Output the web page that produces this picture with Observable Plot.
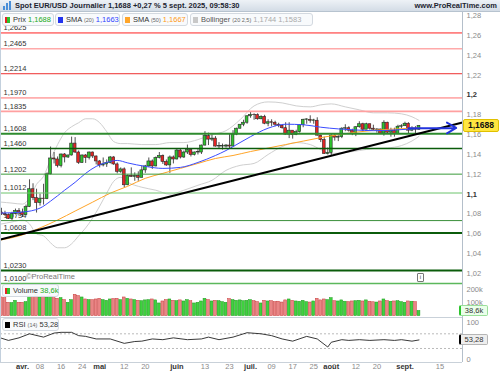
<!DOCTYPE html>
<html lang="fr">
<head>
<meta charset="utf-8">
<script src="https://cdn.jsdelivr.net/npm/d3@7"></script>
<script src="https://cdn.jsdelivr.net/npm/@observablehq/plot@0.6"></script>
<style>
html,body{margin:0;padding:0;background:#fff}
body{width:500px;height:375px;position:relative;overflow:hidden;font-family:"Liberation Sans",Arial,sans-serif;color:#222}
.abs{position:absolute}
#hdr{left:0;top:0;width:500px;height:11px;background:linear-gradient(#eef2f6,#d3dce6);border-bottom:1px solid #b7c3cf;z-index:5}
#ttl{left:15px;top:0px;font-size:7.5px;font-weight:bold;line-height:11px;white-space:nowrap;color:#1c2430}
#site{right:3px;top:0px;font-size:7.5px;font-weight:bold;line-height:11px;color:#1c2430}
.leg{height:13px;line-height:12px;border:1px solid #d3d9e0;border-radius:3px;background:rgba(248,250,252,0.96);font-size:7.5px;white-space:nowrap;z-index:4;box-sizing:border-box;padding-left:2px;color:#333}
.sq{display:inline-block;width:5px;height:6px;margin-right:3px;vertical-align:-0.5px}
.sm{font-size:5.5px;color:#666}
.tag{font-size:7.5px;line-height:10px;text-align:center;box-sizing:border-box;border-radius:2px;z-index:4}
</style>
</head>
<body>
<div id="pricePanel" class="abs" style="left:0;top:0"></div>
<div id="volPanel" class="abs" style="left:0;top:283px"></div>
<div id="rsiPanel" class="abs" style="left:0;top:317px"></div>
<div class="abs" style="left:0;top:12px;width:1px;height:350px;background:#c3d0dd"></div>
<div class="abs" style="left:462px;top:12px;width:1px;height:350px;background:#b4bfca"></div>
<div class="abs" style="left:0;top:317px;width:462px;height:1px;background:#c9d1d9"></div>
<div class="abs" style="left:0;top:362px;width:462px;height:1px;background:#c9d1d9"></div>
<div id="hdr" class="abs">
  <svg class="abs" style="left:3px;top:1px" width="9" height="9"><rect x="0" y="5" width="2" height="4" fill="#4a8fd8"/><rect x="3" y="2" width="2" height="7" fill="#4a8fd8"/><rect x="6" y="0" width="2" height="9" fill="#4a8fd8"/></svg>
  <div id="ttl" class="abs">Spot EUR/USD Journalier 1,1688 +0,27 % 5 sept. 2025, 09:58:30</div>
  <div id="site" class="abs">www.ProRealTime.com</div>
</div>
<div id="legends"></div>
<div class="abs" style="left:26px;top:272px;font-size:7.5px;color:#777;z-index:3">©ProRealTime</div>
<div class="abs" style="left:417px;top:273px;width:5px;height:7px;border:1px solid #777;border-radius:1px;font-size:6px;line-height:7px;text-align:center;color:#444;z-index:3">i</div>
<script>
// ---------------- DATA ----------------
const firstIdx = -6; // trading-day index of first candle (24 mars 2025); 0 = 1 avr.
const opens = [1.0815,1.0800,1.0790,1.0752,1.0800,1.0830,
 1.0815,1.0790,1.0870,1.1050,1.0960,1.0910,1.0955,1.0950,1.1200,1.1360,
 1.1350,1.1285,1.1400,1.1370,1.1390,1.1510,1.1420,1.1315,1.1390,1.1365,
 1.1420,1.1380,1.1330,1.1290,1.1300,1.1315,1.1370,1.1300,1.1225,1.1250,
 1.1090,1.1185,1.1175,1.1185,1.1165,1.1240,1.1280,1.1330,1.1280,1.1365,
 1.1385,1.1325,1.1290,1.1370,1.1350,1.1440,1.1370,1.1420,1.1445,1.1395,
 1.1420,1.1420,1.1490,1.1585,1.1550,1.1560,1.1480,1.1480,1.1480,1.1490,
 1.1480,1.1600,1.1660,1.1700,1.1720,1.1785,1.1800,1.1797,1.1755,1.1780,
 1.1710,1.1725,1.1720,1.1700,1.1690,1.1665,1.1600,1.1640,1.1595,1.1625,
 1.1695,1.1750,1.1750,1.1740,1.1740,1.1590,1.1545,1.1405,1.1415,1.1590,
 1.1570,1.1575,1.1660,1.1665,1.1640,1.1615,1.1675,1.1705,1.1650,1.1705,
 1.1660,1.1650,1.1652,1.1610,1.1720,1.1620,1.1640,1.1605,1.1680,1.1685,
 1.1710,1.1640,1.1660,1.1650];
const highs = [1.0858,1.0828,1.0802,1.0818,1.0850,1.0855,
 1.0850,1.0890,1.1145,1.1105,1.1050,1.1000,1.1100,1.1215,1.1475,1.1420,
 1.1375,1.1405,1.1410,1.1395,1.1575,1.1570,1.1435,1.1395,1.1400,1.1425,
 1.1425,1.1385,1.1340,1.1365,1.1345,1.1380,1.1380,1.1315,1.1265,1.1265,
 1.1195,1.1265,1.1215,1.1225,1.1285,1.1290,1.1365,1.1345,1.1375,1.1420,
 1.1395,1.1345,1.1385,1.1385,1.1455,1.1455,1.1435,1.1495,1.1455,1.1425,
 1.1450,1.1495,1.1630,1.1615,1.1595,1.1580,1.1520,1.1505,1.1500,1.1610,
 1.1640,1.1665,1.1700,1.1745,1.1790,1.1830,1.1810,1.1810,1.1790,1.1795,
 1.1750,1.1750,1.1735,1.1715,1.1695,1.1720,1.1720,1.1640,1.1645,1.1700,
 1.1755,1.1760,1.1790,1.1755,1.1770,1.1595,1.1575,1.1465,1.1600,1.1605,
 1.1590,1.1670,1.1700,1.1680,1.1655,1.1680,1.1730,1.1715,1.1715,1.1705,
 1.1695,1.1660,1.1655,1.1740,1.1725,1.1665,1.1665,1.1695,1.1700,1.1725,
 1.1720,1.1680,1.1680,1.1692];
const lows = [1.0785,1.0777,1.0745,1.0733,1.0790,1.0778,
 1.0765,1.0780,1.0865,1.0935,1.0810,1.0880,1.0890,1.0945,1.1195,1.1305,
 1.1265,1.1265,1.1315,1.1360,1.1385,1.1410,1.1300,1.1310,1.1310,1.1345,
 1.1360,1.1295,1.1265,1.1275,1.1270,1.1305,1.1290,1.1205,1.1210,1.1065,
 1.1085,1.1170,1.1130,1.1130,1.1165,1.1210,1.1270,1.1250,1.1275,1.1355,
 1.1300,1.1280,1.1210,1.1305,1.1345,1.1355,1.1360,1.1400,1.1375,1.1385,
 1.1395,1.1400,1.1485,1.1490,1.1530,1.1475,1.1460,1.1445,1.1465,1.1450,
 1.1575,1.1590,1.1655,1.1680,1.1705,1.1765,1.1745,1.1745,1.1750,1.1700,
 1.1680,1.1680,1.1680,1.1670,1.1655,1.1595,1.1560,1.1555,1.1590,1.1615,
 1.1670,1.1705,1.1715,1.1705,1.1585,1.1520,1.1400,1.1395,1.1390,1.1535,
 1.1530,1.1560,1.1630,1.1625,1.1590,1.1580,1.1665,1.1630,1.1650,1.1645,
 1.1635,1.1615,1.1605,1.1585,1.1610,1.1575,1.1575,1.1600,1.1660,1.1685,
 1.1610,1.1630,1.1610,1.1642];
const closes = [1.0800,1.0790,1.0752,1.0800,1.0830,1.0815,
 1.0790,1.0870,1.1050,1.0960,1.0910,1.0955,1.0950,1.1200,1.1360,1.1350,
 1.1285,1.1400,1.1370,1.1390,1.1510,1.1420,1.1315,1.1390,1.1365,1.1420,
 1.1380,1.1330,1.1290,1.1300,1.1315,1.1370,1.1300,1.1225,1.1250,1.1090,
 1.1185,1.1175,1.1185,1.1165,1.1240,1.1280,1.1330,1.1280,1.1365,1.1385,
 1.1325,1.1290,1.1370,1.1350,1.1440,1.1370,1.1420,1.1445,1.1395,1.1420,
 1.1420,1.1490,1.1585,1.1550,1.1560,1.1480,1.1480,1.1480,1.1490,1.1480,
 1.1600,1.1660,1.1700,1.1720,1.1785,1.1800,1.1797,1.1755,1.1780,1.1710,
 1.1725,1.1720,1.1700,1.1690,1.1665,1.1600,1.1640,1.1595,1.1625,1.1695,
 1.1750,1.1750,1.1740,1.1740,1.1590,1.1545,1.1405,1.1415,1.1590,1.1570,
 1.1575,1.1660,1.1665,1.1640,1.1615,1.1675,1.1705,1.1650,1.1705,1.1660,
 1.1650,1.1652,1.1610,1.1720,1.1620,1.1640,1.1605,1.1680,1.1685,1.1710,
 1.1640,1.1660,1.1650,1.1688];
// volume, in thousands
const volumes = [140,135,100,98,115,100,
 100,105,150,145,160,140,150,140,150,145,
 130,135,120,100,120,160,150,140,125,120,
 120,125,130,120,115,125,128,130,120,140,
 130,125,120,115,112,118,120,125,118,95,
 110,120,125,115,112,118,110,120,112,95,
 100,110,130,120,110,115,112,105,100,128,
 120,115,118,112,115,120,112,105,95,115,
 110,112,105,108,102,118,125,115,110,108,
 115,105,102,110,130,118,125,120,135,112,
 110,118,108,105,110,112,115,110,118,108,
 104,102,110,125,112,108,110,112,105,100,
 110,108,105,38.6];
// indicators: trading-day index / value
const sma20Idx = [-6,0,5,8,12,15,18,21,24,27,30,35,40,45,50,55,58,62,65,70,75,80,85,90,95,100,105,110,113];
const sma20Val = [1.0810,1.0820,1.0860,1.0930,1.1040,1.1120,1.1210,1.1280,1.1320,1.1340,1.1315,1.1280,1.1260,1.1270,1.1320,1.1390,1.1440,1.1520,1.1580,1.1665,1.1705,1.1700,1.1675,1.1658,1.1647,1.1640,1.1645,1.1655,1.1663];
const sma50Idx = [-6,0,5,10,15,20,25,30,35,40,45,50,55,60,65,70,75,80,85,90,95,100,105,110,113];
const sma50Val = [1.0540,1.0590,1.0660,1.0740,1.0830,1.0920,1.1010,1.1080,1.1160,1.1210,1.1260,1.1310,1.1360,1.1390,1.1430,1.1465,1.1500,1.1535,1.1570,1.1600,1.1625,1.1643,1.1655,1.1663,1.1667];
const bbIdx = [-6,-3,0,2,4,6,8,10,12,14,16,18,20,22,24,26,28,30,34,38,42,46,50,54,58,62,66,70,74,78,82,85,88,92,96,100,104,108,111,113];
const bbUpper = [1.092,1.091,1.090,1.096,1.110,1.118,1.135,1.150,1.162,1.168,1.172,1.176,1.176,1.172,1.163,1.153,1.151,1.151,1.150,1.150,1.152,1.152,1.155,1.160,1.164,1.175,1.189,1.193,1.192,1.189,1.188,1.190,1.191,1.188,1.185,1.182,1.182,1.181,1.178,1.1744];
const bbLower = [1.070,1.072,1.074,1.070,1.060,1.058,1.051,1.046,1.046,1.050,1.058,1.066,1.076,1.088,1.101,1.113,1.117,1.112,1.107,1.104,1.100,1.104,1.109,1.114,1.124,1.129,1.131,1.140,1.148,1.152,1.150,1.145,1.141,1.142,1.144,1.146,1.1466,1.149,1.1536,1.1583];
const rsiIdx = [-6,-4,-1,2,6,9,11,14,16,18,21,25,29,32,34,37,40,43,47,51,53,56,60,64,68,71,74,77,81,84,87,88,91,93,96,99,103,106,108,111,113];
const rsiVal = [58,52,59,70,61,72,74,74,65,63,56,56,44,49,50,56,54,59,54,56,61,54,61,73,70,65,56,50,63,56,34,47,54,52,54,52,54,52,54,50,53.28];
// horizontal support / resistance levels
const levelValues = [1.2625,1.2465,1.2214,1.1970,1.1835,1.1608,1.1460,1.1202,1.1012,1.0734,1.0608,1.0230,1.0100];
// trend line and arrow drawn on the chart (index, price)
const trendIdx = [-6.27,125.4];
const trendVal = [1.0544,1.1722];
const arrowIdx = [110,123.6];
const arrowVal = [1.1665,1.1668];
// axis ticks
const priceTicks = [1.02,1.04,1.06,1.08,1.12,1.14,1.16,1.18,1.22,1.24,1.26,1.28];
const priceTicksBold = [1.1,1.2];
const volTicks = [100,200];
const volTickLabels = ["100k","200k"];
const rsiTicks = [0,100];
const monthIdx = [0,22,44,65,88,109];
const monthLabels = ["avr.","mai","juin","juil.","août","sept."];
const dayIdx = [5,11,17,29,35,52,59,71,77,83,95,101,119];
const dayLabels = ["08","16","24","12","20","13","23","09","17","25","12","20","15"];

// ---------------- STYLES ----------------
const levelColors = ["#ff2020","#ffaaaa","#ee3030","#ff7070","#ffa0a0","#2e8b2e","#0b5c0b","#3a9a3a","#6cc46c","#3a8f3a","#0b5c0b","#0b5c0b","#5cb85c"];
const levelWidths = [1,1.6,1,1,1.6,2,1.4,1,1,1,2,2,1.6];
const xDomain = [-6.27,125.4];
const W = 500, MR = 38;
const font = "Liberation Sans, Arial, sans-serif";
const comma = v => String(v).replace(".", ",");
const fmt4 = v => v.toFixed(4).replace(".", ",");
const fmtTick = v => comma(+v.toFixed(2));

const candles = closes.map((c, i) => ({x: firstIdx + i, o: opens[i], h: highs[i], l: lows[i], c}));
const up = d => d.c >= d.o;
const pts = (xs, ys) => xs.map((x, i) => ({x, y: ys[i]}));

// ---------------- PRICE PANEL ----------------
const price = Plot.plot({
  width: W, height: 283, marginTop: 12, marginBottom: 0, marginLeft: 0, marginRight: MR,
  x: {domain: xDomain, axis: null},
  y: {domain: [1.0100, 1.2831], axis: null},
  style: {background: "transparent", fontFamily: font, fontSize: "7.5px", color: "#888", overflow: "visible"},
  marks: [
    Plot.text(levelValues, {y: d => d, text: d => fmt4(d), frameAnchor: "left", dx: 3, dy: -5, textAnchor: "start", fill: "#333"}),
    Plot.line(pts(bbIdx, bbUpper), {x: "x", y: "y", stroke: "#cfcfcf", strokeWidth: 1, curve: "monotone-x"}),
    Plot.line(pts(bbIdx, bbLower), {x: "x", y: "y", stroke: "#cfcfcf", strokeWidth: 1, curve: "monotone-x"}),
    Plot.ruleX(candles, {x: "x", y1: "l", y2: "h", stroke: "#222", strokeWidth: 0.8}),
    Plot.rect(candles, {x1: d => d.x - 0.4, x2: d => d.x + 0.4,
      y1: d => Math.min(d.o, d.c), y2: d => Math.max(d.o, d.c) + (d.o === d.c ? 0.0004 : 0),
      fill: d => up(d) ? "#2ec42e" : "#e42424", stroke: "#2a2a2a", strokeWidth: 0.6}),
    Plot.line(pts(sma50Idx, sma50Val), {x: "x", y: "y", stroke: "#ffa529", strokeWidth: 1, curve: "monotone-x"}),
    Plot.line(pts(sma20Idx, sma20Val), {x: "x", y: "y", stroke: "#3b4cff", strokeWidth: 1, curve: "monotone-x"}),
    ...levelValues.map((v, i) => Plot.ruleY([v], {stroke: levelColors[i], strokeWidth: levelWidths[i]})),
    Plot.line(pts(trendIdx, trendVal), {x: "x", y: "y", stroke: "#000", strokeWidth: 2}),
    Plot.arrow([{x1: arrowIdx[0], y1: arrowVal[0], x2: arrowIdx[1], y2: arrowVal[1]}],
      {x1: "x1", y1: "y1", x2: "x2", y2: "y2", stroke: "#2233dd", strokeWidth: 2, headLength: 8}),
    Plot.text(priceTicks, {y: d => d, text: fmtTick, frameAnchor: "right", dx: 4, textAnchor: "start", fill: "#8a8a8a"}),
    Plot.text(priceTicksBold, {y: d => d, text: fmtTick, frameAnchor: "right", dx: 4, textAnchor: "start", fill: "#333", fontWeight: "bold"})
  ]
});
document.getElementById("pricePanel").append(price);

// ---------------- VOLUME PANEL ----------------
const vols = candles.map((d, i) => ({x: d.x, v: volumes[i], up: up(d)}));
const vol = Plot.plot({
  width: W, height: 34, marginTop: 0, marginBottom: 1.4, marginLeft: 0, marginRight: MR,
  x: {domain: xDomain, axis: null},
  y: {domain: [0, 245], axis: null},
  style: {background: "transparent", fontFamily: font, fontSize: "7.5px", color: "#888", overflow: "visible"},
  marks: [
    Plot.rect(vols, {x1: d => d.x - 0.4, x2: d => d.x + 0.4, y1: () => 0, y2: "v",
      fill: d => d.up ? "#3fd13f" : "#e98585", stroke: d => d.up ? "#1f9a1f" : "#c83a3a", strokeWidth: 0.5}),
    Plot.text(volTicks, {y: d => d, text: (d, i) => volTickLabels[i], frameAnchor: "right", dx: 4, textAnchor: "start", fill: "#8a8a8a"})
  ]
});
document.getElementById("volPanel").append(vol);

// ---------------- RSI PANEL + X AXIS ----------------
const rsi = Plot.plot({
  width: W, height: 58, marginTop: 5.3, marginBottom: 16, marginLeft: 0, marginRight: MR,
  x: {domain: xDomain, axis: null},
  y: {domain: [0, 100], axis: null},
  style: {background: "transparent", fontFamily: font, fontSize: "7.5px", color: "#888", overflow: "visible"},
  marks: [
    Plot.ruleY([70, 30], {stroke: "#a8a8a8", strokeWidth: 0.8, strokeDasharray: "2,2"}),
    Plot.line(pts(rsiIdx, rsiVal), {x: "x", y: "y", stroke: "#222", strokeWidth: 0.9}),
    Plot.text(rsiTicks, {y: d => d, text: d => String(d), frameAnchor: "right", dx: 4, textAnchor: "start", fill: "#8a8a8a"}),
    Plot.text(dayIdx, {x: d => d, text: (d, i) => dayLabels[i], frameAnchor: "bottom", dy: 9, fill: "#8a8a8a"}),
    Plot.text(monthIdx, {x: d => d, text: (d, i) => monthLabels[i], frameAnchor: "bottom", dy: 9, fill: "#333", fontWeight: "bold"})
  ]
});
document.getElementById("rsiPanel").append(rsi);

// ---------------- LEGENDS & TAGS ----------------
const last = a => a[a.length - 1];
const legends = [
  {l: 2, t: 13, w: 52, html: `<span class="sq" style="background:linear-gradient(90deg,#e42424 50%,#2ec42e 50%)"></span>Prix <span style="color:#22aa22">${fmt4(last(closes))}</span>`},
  {l: 55, t: 13, w: 65, html: `<span class="sq" style="background:#2233ee"></span>SMA <span class="sm">(20)</span> <span style="color:#3344ff">${fmt4(last(sma20Val))}</span>`},
  {l: 122, t: 13, w: 66, html: `<span class="sq" style="background:#ffa529"></span>SMA <span class="sm">(50)</span> <span style="color:#ff9a1a">${fmt4(last(sma50Val))}</span>`},
  {l: 190, t: 13, w: 123, html: `<span class="sq" style="background:#c8c8c8"></span><span style="color:#555">Bollinger</span> <span class="sm">(20 2,5)</span> <span style="color:#aaa">${fmt4(last(bbUpper))} ${fmt4(last(bbLower))}</span>`},
  {l: 2, t: 284, w: 57, html: `<span class="sq" style="background:linear-gradient(90deg,#e42424 50%,#2ec42e 50%)"></span>Volume <span style="color:#22aa22">${comma(last(volumes))}k</span>`},
  {l: 2, t: 318, w: 57, html: `<span class="sq" style="background:#000"></span>RSI <span class="sm">(14)</span> ${comma(last(rsiVal))}`}
];
const lg = document.getElementById("legends");
for (const d of legends) {
  const el = document.createElement("div");
  el.className = "abs leg";
  el.style.left = d.l + "px"; el.style.top = d.t + "px"; el.style.width = d.w + "px";
  el.innerHTML = d.html;
  lg.append(el);
}
const tags = [
  {l: 463, t: 119, w: 36, h: 13, bg: "#ffe640", bd: "1px solid #e0c000", txt: fmt4(last(closes)), fw: "bold", fs: "8.5px", c: "#111"},
  {l: 459, t: 305, w: 29, h: 11, bg: "#eaffea", bd: "1px solid #9adf9a", txt: comma(last(volumes)) + "k", fw: "normal", fs: "7.5px", c: "#333", left: "#2ec42e"},
  {l: 459, t: 334, w: 29, h: 11, bg: "#eeeeee", bd: "1px solid #b5b5b5", txt: comma(last(rsiVal)), fw: "normal", fs: "7.5px", c: "#333", left: "#000"}
];
for (const d of tags) {
  const el = document.createElement("div");
  el.className = "abs tag";
  Object.assign(el.style, {left: d.l + "px", top: d.t + "px", width: d.w + "px", height: d.h + "px",
    lineHeight: (d.h - 2) + "px", background: d.bg, border: d.bd, fontWeight: d.fw, fontSize: d.fs, color: d.c});
  if (d.left) el.style.borderLeft = "2px solid " + d.left;
  el.textContent = d.txt;
  lg.append(el);
}
</script>
</body>
</html>
